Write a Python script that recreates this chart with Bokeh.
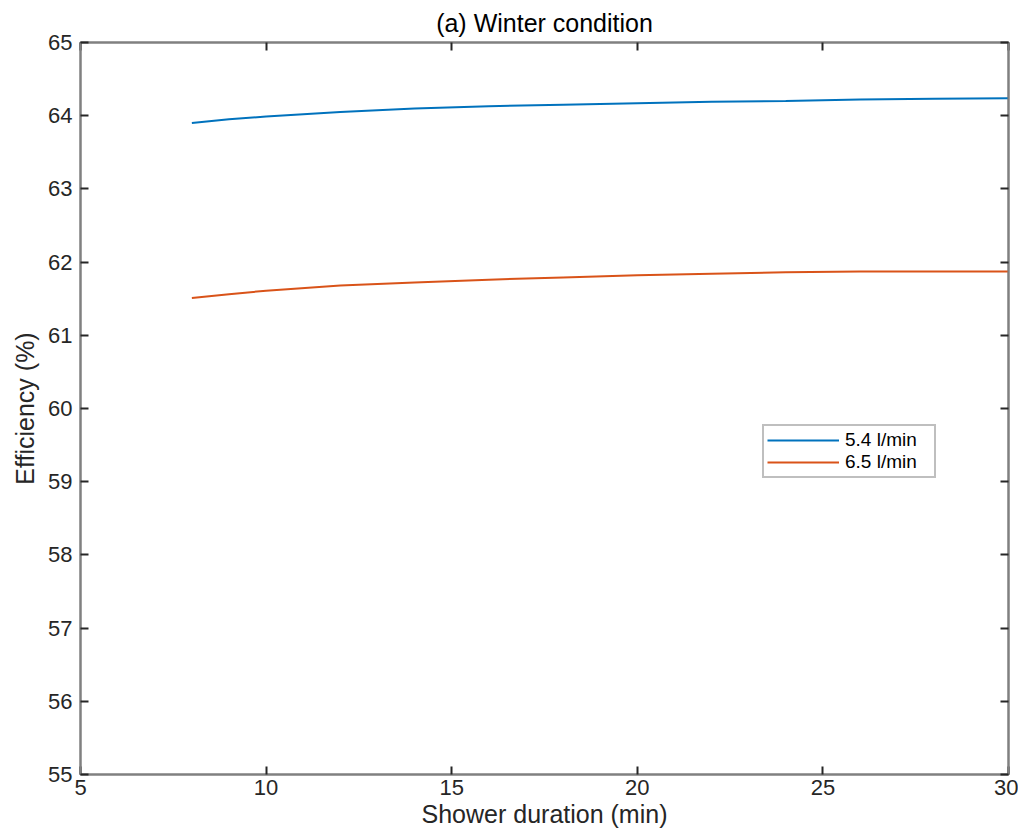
from bokeh.plotting import figure
from bokeh.models import LinearAxis, Legend, LegendItem, FixedTicker, Range1d
from bokeh.embed import file_html
from bokeh.resources import INLINE

# Data
duration = [8, 9, 10, 12, 14, 16, 18, 20, 22, 24, 26, 28, 30]
eff_54 = [63.90, 63.95, 63.99, 64.05, 64.10, 64.13, 64.15, 64.17, 64.19, 64.20, 64.22, 64.23, 64.24]
eff_65 = [61.51, 61.56, 61.61, 61.68, 61.72, 61.76, 61.79, 61.82, 61.84, 61.86, 61.87, 61.87, 61.87]
series_labels = ["5.4 l/min", "6.5 l/min"]
x_ticks = [5, 10, 15, 20, 25, 30]
y_ticks = [55, 56, 57, 58, 59, 60, 61, 62, 63, 64, 65]

FONT = "Liberation Sans"
AXC = "#808080"
TXT = "#262626"

p = figure(width=1018, height=830, output_backend="svg", toolbar_location=None,
           x_range=Range1d(5, 30), y_range=Range1d(55, 65),
           min_border_left=80, min_border_top=41, min_border_right=10, min_border_bottom=56,
           title="(a) Winter condition")
p.title.align = "center"
p.title.text_font = FONT
p.title.text_font_size = "25px"
p.title.text_font_style = "normal"
p.title.text_color = "#000000"
p.title.standoff = 12
p.grid.visible = False
p.outline_line_color = AXC
p.outline_line_width = 2
p.background_fill_color = "white"
p.border_fill_color = "white"

def style_axis(ax, show_labels=True):
    ax.axis_line_color = AXC
    ax.axis_line_width = 2
    ax.major_tick_line_color = TXT
    ax.major_tick_line_width = 2
    ax.major_tick_in = 8
    ax.major_tick_out = 0
    ax.minor_tick_line_color = None
    ax.major_label_text_font = FONT
    ax.major_label_text_color = TXT
    ax.axis_label_text_font = FONT
    ax.axis_label_text_font_style = "normal"
    ax.axis_label_text_color = TXT
    if show_labels:
        ax.major_label_text_font_size = "22px"
        ax.axis_label_text_font_size = "25px"
    else:
        ax.major_label_overrides = {t: "" for t in ax.ticker.ticks}
        ax.major_label_text_font_size = "1px"
        ax.major_label_standoff = 0

p.xaxis.ticker = FixedTicker(ticks=x_ticks)
p.yaxis.ticker = FixedTicker(ticks=y_ticks)
p.xaxis.axis_label = "Shower duration (min)"
p.yaxis.axis_label = "Efficiency (%)"
style_axis(p.xaxis[0])
style_axis(p.yaxis[0])
p.xaxis.major_label_standoff = 5
p.yaxis.major_label_standoff = 8
p.xaxis.axis_label_standoff = 2
p.yaxis.axis_label_standoff = 6

top_ax = LinearAxis(ticker=FixedTicker(ticks=x_ticks))
right_ax = LinearAxis(ticker=FixedTicker(ticks=y_ticks))
style_axis(top_ax, False)
style_axis(right_ax, False)
p.add_layout(top_ax, "above")
p.add_layout(right_ax, "right")

r1 = p.line(duration, eff_54, line_color="#0072BD", line_width=2)
r2 = p.line(duration, eff_65, line_color="#D95319", line_width=2)

legend = Legend(items=[LegendItem(label=series_labels[0], renderers=[r1]),
                       LegendItem(label=series_labels[1], renderers=[r2])],
                location=(682, 296))
legend.label_text_font = FONT
legend.label_text_font_size = "19px"
legend.label_text_color = "#000000"
legend.label_height = 18
legend.label_width = 86
legend.glyph_height = 18
legend.glyph_width = 72
legend.label_standoff = 6
legend.spacing = 0
legend.padding = 3
legend.margin = 0
legend.border_line_color = AXC
legend.border_line_width = 2
legend.background_fill_color = "white"
legend.background_fill_alpha = 1.0
p.add_layout(legend, "center")

open("out.html", "w").write(file_html(p, INLINE))
